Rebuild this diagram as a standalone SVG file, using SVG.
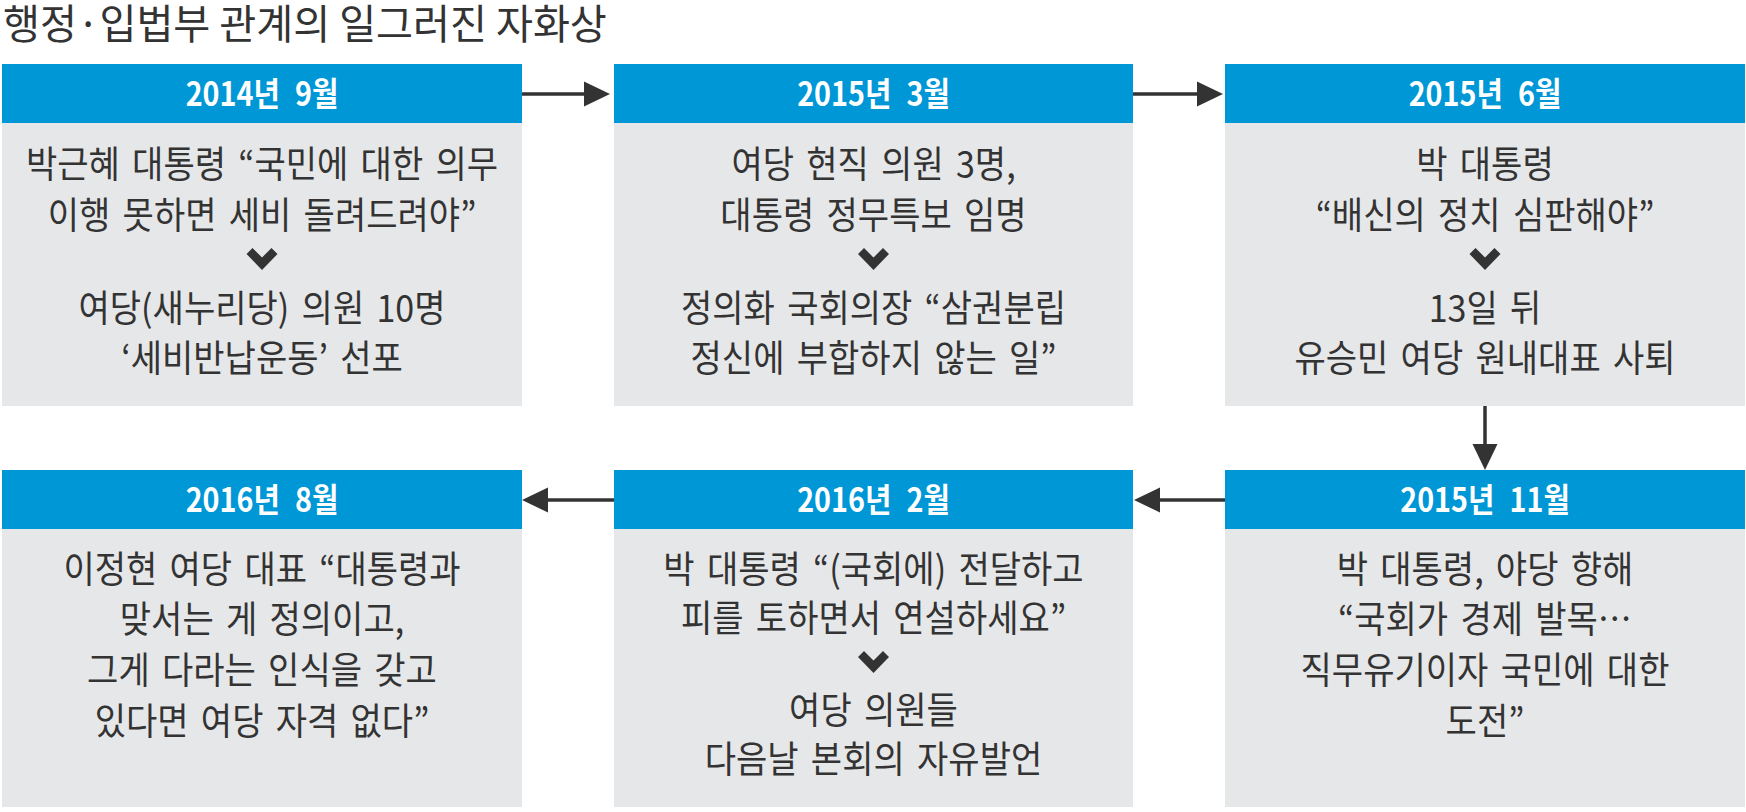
<svg xmlns="http://www.w3.org/2000/svg" width="1746" height="812" viewBox="0 0 1746 812">
<style>
.title{font-family:"Noto Sans CJK KR","Noto Sans",sans-serif;font-size:41px;fill:#333}
.hdbox{fill:#0097d7}
.bdbox{fill:#e6e7e9}
.hd{font-family:"Noto Sans CJK KR","Noto Sans",sans-serif;font-size:33px;font-weight:bold;fill:#fff;text-anchor:middle;word-spacing:10px}
.bd{font-family:"Noto Sans CJK KR","Noto Sans",sans-serif;font-size:37px;fill:#333;text-anchor:middle;word-spacing:5px}
.chev{fill:#333}
.conn line{stroke:#333;stroke-width:3.5}
.conn polygon{fill:#333}
</style>
<defs>
<polygon id="chevron" points="-15.5,-5 -9.5,-11 0,-1.5 9.5,-11 15.5,-5 0,11"/>
</defs>
<g transform="translate(3,0) scale(0.98,1)"><text class="title" x="0" y="39">행정·입법부 관계의 일그러진 자화상</text></g>

<g id="node-2014-09">
<rect class="hdbox" x="2" y="64" width="520" height="59"/>
<rect class="bdbox" x="2" y="123" width="520" height="283"/>
<g transform="translate(262,0) scale(0.87,1)"><text class="hd" x="0" y="106">2014년 9월</text></g>
<g transform="translate(262,0) scale(0.92,1)">
<text class="bd" x="0" y="178">박근혜 대통령 “국민에 대한 의무</text>
<text class="bd" x="0" y="229">이행 못하면 세비 돌려드려야”</text>
<text class="bd" x="0" y="322">여당(새누리당) 의원 10명</text>
<text class="bd" x="0" y="372">‘세비반납운동’ 선포</text>
</g>
<use href="#chevron" class="chev" x="262" y="259"/>
</g>

<g id="node-2015-03">
<rect class="hdbox" x="614" y="64" width="519" height="59"/>
<rect class="bdbox" x="614" y="123" width="519" height="283"/>
<g transform="translate(873.5,0) scale(0.87,1)"><text class="hd" x="0" y="106">2015년 3월</text></g>
<g transform="translate(873.5,0) scale(0.92,1)">
<text class="bd" x="0" y="178">여당 현직 의원 3명,</text>
<text class="bd" x="0" y="229">대통령 정무특보 임명</text>
<text class="bd" x="0" y="322">정의화 국회의장 “삼권분립</text>
<text class="bd" x="0" y="372">정신에 부합하지 않는 일”</text>
</g>
<use href="#chevron" class="chev" x="873.5" y="259"/>
</g>

<g id="node-2015-06">
<rect class="hdbox" x="1225" y="64" width="520" height="59"/>
<rect class="bdbox" x="1225" y="123" width="520" height="283"/>
<g transform="translate(1485,0) scale(0.87,1)"><text class="hd" x="0" y="106">2015년 6월</text></g>
<g transform="translate(1485,0) scale(0.92,1)">
<text class="bd" x="0" y="178">박 대통령</text>
<text class="bd" x="0" y="229">“배신의 정치 심판해야”</text>
<text class="bd" x="0" y="322">13일 뒤</text>
<text class="bd" x="0" y="372">유승민 여당 원내대표 사퇴</text>
</g>
<use href="#chevron" class="chev" x="1485" y="259"/>
</g>

<g id="node-2015-11">
<rect class="hdbox" x="1225" y="470" width="520" height="59"/>
<rect class="bdbox" x="1225" y="529" width="520" height="278"/>
<g transform="translate(1485,0) scale(0.87,1)"><text class="hd" x="0" y="512">2015년 11월</text></g>
<g transform="translate(1485,0) scale(0.92,1)">
<text class="bd" x="0" y="583">박 대통령, 야당 향해</text>
<text class="bd" x="0" y="633">“국회가 경제 발목…</text>
<text class="bd" x="0" y="684">직무유기이자 국민에 대한</text>
<text class="bd" x="0" y="735">도전”</text>
</g>
</g>

<g id="node-2016-02">
<rect class="hdbox" x="614" y="470" width="519" height="59"/>
<rect class="bdbox" x="614" y="529" width="519" height="278"/>
<g transform="translate(873.5,0) scale(0.87,1)"><text class="hd" x="0" y="512">2016년 2월</text></g>
<g transform="translate(873.5,0) scale(0.92,1)">
<text class="bd" x="0" y="583">박 대통령 “(국회에) 전달하고</text>
<text class="bd" x="0" y="632">피를 토하면서 연설하세요”</text>
<text class="bd" x="0" y="724">여당 의원들</text>
<text class="bd" x="0" y="773">다음날 본회의 자유발언</text>
</g>
<use href="#chevron" class="chev" x="873.5" y="662"/>
</g>

<g id="node-2016-08">
<rect class="hdbox" x="2" y="470" width="520" height="59"/>
<rect class="bdbox" x="2" y="529" width="520" height="278"/>
<g transform="translate(262,0) scale(0.87,1)"><text class="hd" x="0" y="512">2016년 8월</text></g>
<g transform="translate(262,0) scale(0.92,1)">
<text class="bd" x="0" y="583">이정현 여당 대표 “대통령과</text>
<text class="bd" x="0" y="633">맞서는 게 정의이고,</text>
<text class="bd" x="0" y="684">그게 다라는 인식을 갖고</text>
<text class="bd" x="0" y="735">있다면 여당 자격 없다”</text>
</g>
</g>

<g id="connectors" class="conn">
<line x1="522" y1="94" x2="586" y2="94"/>
<polygon points="584,81.5 610,94 584,106.5"/>
<line x1="1133" y1="94" x2="1199" y2="94"/>
<polygon points="1197,81.5 1223,94 1197,106.5"/>
<line x1="1485" y1="406" x2="1485" y2="446"/>
<polygon points="1472.5,444 1497.5,444 1485,470"/>
<line x1="1225" y1="500" x2="1158" y2="500"/>
<polygon points="1160,487.5 1134,500 1160,512.5"/>
<line x1="614" y1="500" x2="546" y2="500"/>
<polygon points="548,487.5 522,500 548,512.5"/>
</g>
</svg>
